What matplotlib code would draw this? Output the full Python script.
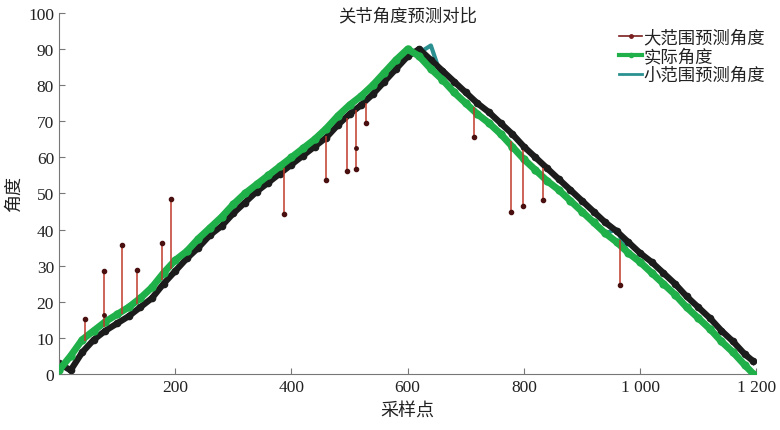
import matplotlib
matplotlib.use("Agg")
import matplotlib.pyplot as plt
import numpy as np

plt.rcParams['font.family'] = ['Liberation Serif', 'Noto Sans CJK SC', 'DejaVu Sans']

# sample grid for the curves
sample_x = [0, 20, 40, 60, 80, 100, 120, 140, 160, 180, 200, 220, 240, 260, 280, 300,
            320, 340, 360, 380, 400, 420, 440, 460, 480, 500, 520, 540, 560, 580, 600,
            620, 640, 660, 680, 700, 720, 740, 760, 780, 800, 820, 840, 860, 880, 900,
            920, 940, 960, 980, 1000, 1020, 1040, 1060, 1080, 1100, 1120, 1140, 1160, 1180, 1195]

actual = [1, 5, 9.5, 12, 14.5, 16.5, 18.5, 21, 24, 28, 31.5, 34, 37.5, 40.5, 43.5, 47,
          50, 52.5, 55, 57.5, 60, 62.5, 65, 68, 71.5, 74.5, 77, 80, 83.5, 87, 90,
          88, 84.5, 81.5, 78, 75, 72, 69.5, 66.5, 63, 59.5, 56.5, 53.5, 51, 48, 45,
          42, 39, 36.5, 33.5, 31, 28, 25, 22, 18.5, 15.5, 12.5, 9, 6, 2.5, 0]

large_pred = [3, 1, 6, 9.5, 12, 14, 16, 18.5, 21, 25, 28.5, 32, 35, 38.5, 41, 44.5,
              47.5, 50.5, 53, 55.5, 58, 60.5, 63, 65.5, 69, 72, 74.5, 77.5, 81, 84.5, 88,
              90, 87, 84, 81, 78, 75, 72.5, 69.5, 66.5, 63, 60, 57, 54, 51, 48,
              45, 42, 39.5, 36.5, 33.5, 31, 28, 25, 21.5, 18.5, 15.5, 12, 9, 5.5, 3.5]

small_pred = [1, 5, 9.5, 12, 14.5, 16.5, 18.5, 21, 24, 28, 31.5, 34, 37.5, 40.5, 43.5, 47,
              50, 52.5, 55, 57.5, 60, 62.5, 65, 68, 71.5, 74.5, 77, 80, 83.5, 87, 90,
              89, 91, 81.5, 78, 75, 72, 69.5, 66.5, 63, 59.5, 56.5, 53.5, 51, 48, 45,
              42, 39, 40, 33.5, 31, 28, 25, 22, 18.5, 15.5, 12.5, 9, 6, 2.5, 0]

# outlier spikes of the large-range prediction
spike_x = [45, 78, 109, 134, 178, 193, 388, 459, 495, 512, 529, 714, 778, 798, 833, 966]
spike_val = [15.2, 28.5, 35.7, 28.8, 36.3, 48.5, 44.3, 53.7, 56.2, 56.8, 69.5, 65.6, 44.9, 46.5, 48.2, 24.7]
spike_base = [9, 13, 16.5, 19.5, 26, 29, 57, 66, 71, 73, 75, 74, 64.5, 62, 57, 37]
mid_x = [78, 512]
mid_val = [16.3, 62.6]

title = "关节角度预测对比"
xlabel = "采样点"
ylabel = "角度"
xticks = [200, 400, 600, 800, 1000, 1200]
xtick_labels = ["200", "400", "600", "800", "1 000", "1 200"]
yticks = list(range(0, 101, 10))

fig = plt.figure(figsize=(7.8, 4.31), dpi=100)
ax = fig.add_axes([0.0756, 0.130, 0.894, 0.8375])

c_large = '#7a1f1f'
c_black = '#1c1c1c'
c_green = '#20b04a'
c_teal = '#2a9090'
cjk = ['Noto Sans CJK SC']

ax.plot(sample_x, small_pred, color=c_teal, lw=3, zorder=1)
ax.plot(sample_x, large_pred, color=c_black, lw=4.5, marker='o', ms=4.5, zorder=2)
ax.plot(sample_x, actual, color=c_green, lw=5, marker='o', ms=5, zorder=3)
ax.vlines(spike_x, spike_base, spike_val, color='#c0392b', lw=1.1, zorder=4)
ax.plot(spike_x, spike_val, 'o', color='#4a1010', ms=3, zorder=5)
ax.plot(mid_x, mid_val, 'o', color='#4a1010', ms=2.5, zorder=5)

# legend proxies
h1, = ax.plot([], [], color=c_large, lw=1.2, marker='o', ms=2.5)
h2, = ax.plot([], [], color=c_green, lw=3, marker='o', ms=3)
h3, = ax.plot([], [], color=c_teal, lw=2)
leg = fig.legend([h1, h2, h3], ["大范围预测角度", "实际角度", "小范围预测角度"],
                 loc='upper left', bbox_to_anchor=(0.785, 0.948), frameon=False,
                 handlelength=1.3, handletextpad=0.1, labelspacing=0.05,
                 borderaxespad=0, prop={'family': cjk, 'size': 12.5})
for t in leg.get_texts():
    t.set_color('#222222')

ax.set_xlim(0, 1200)
ax.set_ylim(0, 100)
ax.set_xticks(xticks)
ax.set_xticklabels(xtick_labels)
ax.set_yticks(yticks)
ax.tick_params(direction='in', length=4, labelsize=12.5, colors='#222222', color='#777777')
for s in ['top', 'right']:
    ax.spines[s].set_visible(False)
for s in ['left', 'bottom']:
    ax.spines[s].set_color('#777777')

fig.text(0.522, 0.962, title, ha='center', va='center', fontsize=12.5,
         family=cjk, color='#222222')
ax.set_xlabel(xlabel, fontsize=13, family=cjk, labelpad=5, color='#222222')
ax.yaxis.set_label_coords(-0.052, 0.5)
ax.set_ylabel(ylabel, fontsize=13, family=cjk, color='#222222')

fig.savefig('out.png', dpi=100)
